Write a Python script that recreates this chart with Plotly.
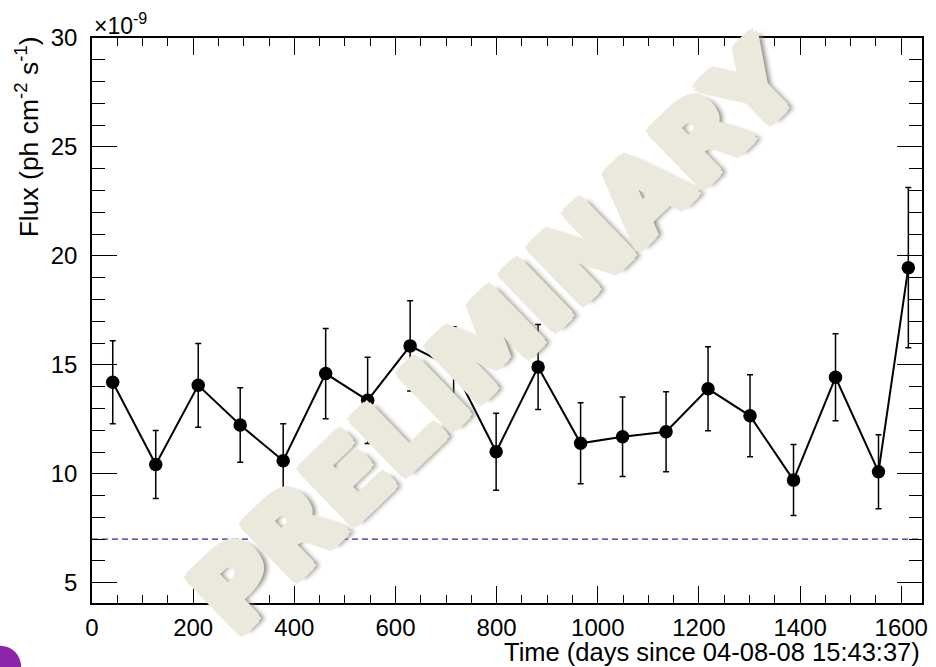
import plotly.graph_objects as go

# ---- data ----
time_days = [41, 126, 210, 293, 378, 462, 545, 629, 715, 799,
             882, 966, 1049, 1135, 1218, 1301, 1387, 1470, 1555, 1614]
flux_e9 = [14.2, 10.43, 14.06, 12.24, 10.6, 14.6, 13.37, 15.87, 14.85, 11.01,
           14.9, 11.4, 11.7, 11.93, 13.9, 12.66, 9.71, 14.43, 10.09, 19.46]
flux_err_e9 = [1.9, 1.56, 1.92, 1.71, 1.7, 2.07, 1.98, 2.07, 1.9, 1.77,
               1.95, 1.86, 1.82, 1.84, 1.93, 1.88, 1.63, 2.0, 1.7, 3.68]
threshold_e9 = 7.0
x_range = [0, 1641]
y_range = [4.07, 30]
y_tickvals = [5, 10, 15, 20, 25, 30]
x_tickvals = [0, 200, 400, 600, 800, 1000, 1200, 1400, 1600]

FONT = "Liberation Sans"
WM = "#ebe9dd"

fig = go.Figure()

fig.add_trace(go.Scatter(
    x=time_days, y=flux_e9, mode="lines+markers",
    line=dict(color="black", width=2),
    marker=dict(color="black", size=13.5),
    error_y=dict(type="data", array=flux_err_e9, visible=True,
                 color="black", thickness=1.5, width=3),
    showlegend=False,
))

fig.add_shape(type="line", xref="x", yref="y",
              x0=x_range[0], x1=x_range[1], y0=threshold_e9, y1=threshold_e9,
              line=dict(color="#2a2a9e", width=1.4, dash="6px,4px"), layer="below")

axis_common = dict(showline=True, linecolor="black", linewidth=1.5,
                   mirror="allticks", ticks="inside", tickcolor="black",
                   tickwidth=1.3, showgrid=False, zeroline=False,
                   tickfont=dict(family=FONT, size=24, color="black"))

fig.update_xaxes(range=x_range, tickvals=x_tickvals, ticklen=17,
                 minor=dict(dtick=50, tick0=0, ticks="inside", ticklen=8,
                            tickcolor="black", tickwidth=1.3, showgrid=False),
                 ticklabelstandoff=2, **axis_common)
fig.update_yaxes(range=y_range, tickvals=y_tickvals, ticklen=25,
                 minor=dict(dtick=1, tick0=0, ticks="inside", ticklen=13,
                            tickcolor="black", tickwidth=1.3, showgrid=False),
                 ticklabelstandoff=8, **axis_common)

ring = []
for dx, dy in [(5, 0), (-5, 0), (0, 5), (0, -5), (4, 4), (-4, -4), (4, -4), (-4, 4),
               (3, 0), (-3, 0), (0, 3), (0, -3), (2, 2), (-2, -2), (2, -2), (-2, 2)]:
    ring.append("{}px {}px 0 {}".format(dx, dy, WM))
ring.append("6px 6px 5px #8a8a80")
wm_shadow = ", ".join(ring)

annotations = [
    dict(text="Time (days since 04-08-08 15:43:37)", xref="paper", yref="paper",
         x=1.0, y=-0.086, xanchor="right", yanchor="middle", showarrow=False,
         font=dict(family=FONT, size=25.5, color="black")),
    dict(text="Flux (ph cm<sup>-2</sup> s<sup>-1</sup>)", xref="paper", yref="paper",
         x=-0.078, y=1.006, xanchor="center", yanchor="top", textangle=-90,
         showarrow=False, font=dict(family=FONT, size=26.5, color="black")),
    dict(text="×10<sup>-9</sup>", xref="paper", yref="paper",
         x=0.0, y=0.995, xanchor="left", yanchor="bottom", showarrow=False,
         font=dict(family=FONT, size=23, color="black")),
    dict(text="<b>PRELIMINARY</b>", xref="paper", yref="paper",
         x=0.486, y=0.47, xanchor="center", yanchor="middle", textangle=-44,
         showarrow=False,
         font=dict(family="DejaVu Sans", size=104, color=WM, shadow=wm_shadow)),
]
fig.update_layout(annotations=annotations)

# purple corner decoration at the bottom-left of the page
fig.add_shape(type="circle", xref="paper", yref="paper",
              xsizemode="pixel", ysizemode="pixel",
              xanchor=-0.1107, yanchor=-0.1127,
              x0=-21, x1=21, y0=-21, y1=21,
              fillcolor="#8e24aa", line=dict(width=0))

fig.update_layout(
    width=936, height=667,
    margin=dict(l=92, r=8, t=38, b=64),
    paper_bgcolor="white", plot_bgcolor="white",
)

fig.write_html("out.html")
